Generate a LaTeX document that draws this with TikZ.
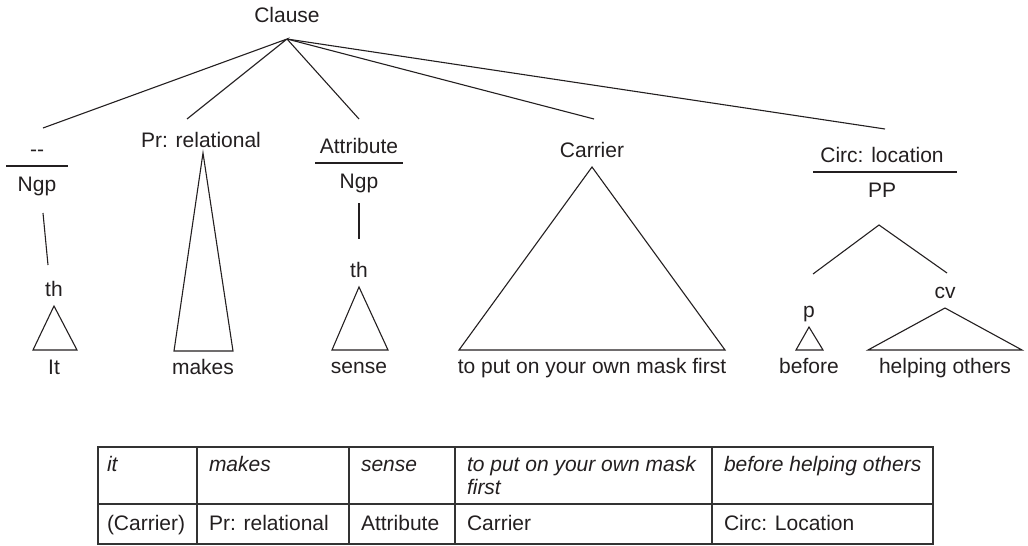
\documentclass[tikz,border=0pt]{standalone}
\usepackage{fontspec}
\setmainfont{Liberation Sans}
\definecolor{ink}{HTML}{231F20}
\definecolor{rule}{HTML}{333333}
\begin{document}
\begin{tikzpicture}[x=1pt,y=-1pt,
  every node/.style={inner sep=0pt,outer sep=0pt,text=ink,font=\fontsize{21}{23}\selectfont},
  lab/.style={anchor=base},
  cell/.style={anchor=base west},
  icell/.style={anchor=base west,font=\fontsize{21}{23}\selectfont\itshape},
  branch/.style={draw=ink,line width=1.1pt},
  tri/.style={draw=ink,line width=1.1pt,line join=miter},
  bar/.style={draw=ink,line width=1.1pt},
  grid/.style={draw=rule,line width=1.3pt}]
\useasboundingbox (0,0) rectangle (1028,546);

% ---- tree labels
\node[lab] (clause) at (287,22) {Clause};
\node[lab] (dash) at (37,156) {-{}-};
\node[lab] (ngp1) at (37,191) {Ngp};
\node[lab] (pr) at (201,147) {Pr: relational};
\node[lab] (attr) at (359,153) {Attribute};
\node[lab] (ngp2) at (359,188) {Ngp};
\node[lab] (carrier) at (592,157) {Carrier};
\node[lab] (circ) at (882,162) {Circ: location};
\node[lab] (pp) at (882,197) {PP};
\node[lab] (th1) at (54,296) {th};
\node[lab] (th2) at (359,277) {th};
\node[lab] (p) at (809,317) {p};
\node[lab] (cv) at (945,298) {cv};
\node[lab] (w1) at (54,374) {It};
\node[lab] (w2) at (203,374) {makes};
\node[lab] (w3) at (359,373) {sense};
\node[lab] (w4) at (592,373) {to put on your own mask first};
\node[lab] (w5) at (809,373) {before};
\node[lab] (w6) at (945,373) {helping others};

% ---- branch end points
\coordinate (apex) at (287,39);
\coordinate (e1) at (43,128);
\coordinate (e2) at (187,119);
\coordinate (e3) at (359,119);
\coordinate (e4) at (594,119);
\coordinate (e5) at (885,129);
\draw[branch] (e1) -- (apex) -- (e2);
\draw[branch] (apex) -- (e3);
\draw[branch] (apex) -- (e4);
\draw[branch] (apex) -- (e5);

% ---- function / class bars
\draw[bar] (6,166) -- (68,166);
\draw[bar] (315,163) -- (403,163);
\draw[bar] (813,172) -- (957,172);

% ---- single lines
\coordinate (n1a) at (43,213);
\coordinate (n1b) at (48,265);
\draw[branch] (n1a) -- (n1b);
\coordinate (n2a) at (359,203);
\coordinate (n2b) at (359,239);
\draw[branch] (n2a) -- (n2b);

% ---- PP split
\coordinate (ppa) at (879,225);
\coordinate (ppl) at (813,274);
\coordinate (ppr) at (947,273);
\draw[branch] (ppl) -- (ppa) -- (ppr);

% ---- triangles
\draw[tri] (54,306) -- (33,350) -- (77,350) -- cycle;
\draw[tri] (203,153) -- (174,351) -- (233,351) -- cycle;
\draw[tri] (359,287) -- (332,350) -- (388,350) -- cycle;
\draw[tri] (592,167) -- (459,350) -- (725,350) -- cycle;
\draw[tri] (809,327) -- (796,350) -- (823,350) -- cycle;
\draw[tri] (945,308) -- (868,350) -- (1022,350) -- cycle;

% ---- table
\draw[grid] (98,447) rectangle (933,544);
\draw[grid] (98,504) -- (933,504);
\foreach \x in {197,349,455,712} \draw[grid] (\x,447) -- (\x,544);

\node[icell] (t11) at (107,471) {it};
\node[icell] (t12) at (209,471) {makes};
\node[icell] (t13) at (361,471) {sense};
\node[icell] (t14) at (467,471) {to put on your own mask};
\node[icell] (t14b) at (467,494) {first};
\node[icell] (t15) at (724,471) {before helping others};
\node[cell] (t21) at (107,530) {(Carrier)};
\node[cell] (t22) at (209,530) {Pr: relational};
\node[cell] (t23) at (361,530) {Attribute};
\node[cell] (t24) at (467,530) {Carrier};
\node[cell] (t25) at (724,530) {Circ: Location};
\end{tikzpicture}
\end{document}
